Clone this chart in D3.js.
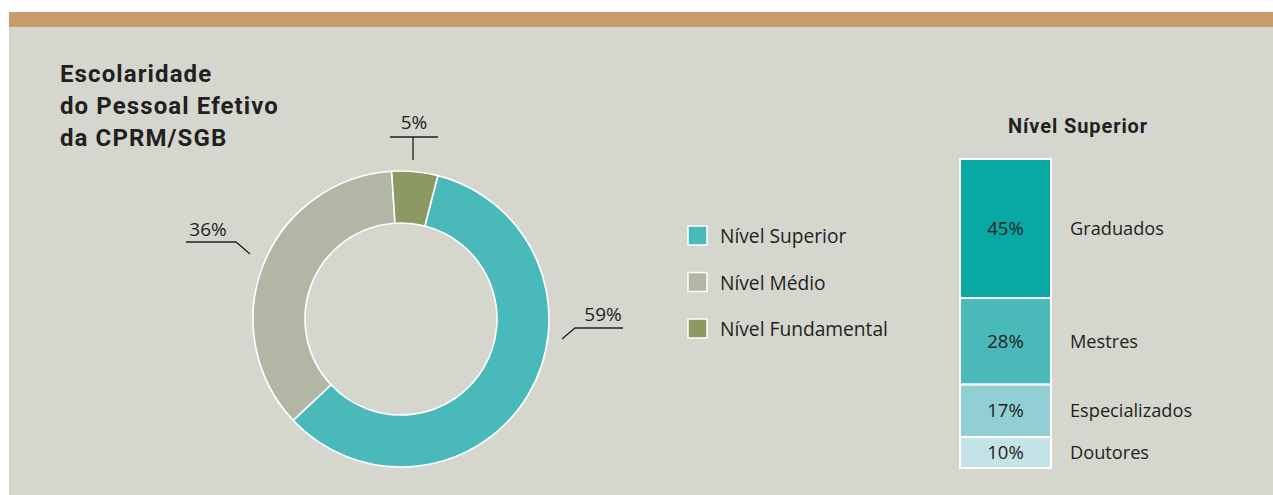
<!DOCTYPE html>
<html>
<head>
<meta charset="utf-8">
<script src="https://cdn.jsdelivr.net/npm/d3@7/dist/d3.min.js"></script>
<style>
  html, body { margin: 0; padding: 0; background: #ffffff; }
  svg { display: block; }
</style>
</head>
<body>
<svg id="chart" width="1273" height="495"></svg>
<script>
// Education level of permanent staff
const levels = ["Nível Superior", "Nível Médio", "Nível Fundamental"];
const levelShares = [59, 36, 5];
const levelColors = ["#49b9ba", "#b2b7a5", "#8c9962"];

// Breakdown of the higher-education group
const degrees = ["Graduados", "Mestres", "Especializados", "Doutores"];
const degreeShares = [45, 28, 17, 10];
const degreeColors = ["#09a8a5", "#49b9ba", "#92cfd5", "#c4e3e6"];

const titleLines = ["Escolaridade", "do Pessoal Efetivo", "da CPRM/SGB"];
const subTitle = "Nível Superior";

const svg = d3.select("#chart");
const textFont = "'Open Sans', 'Noto Sans', sans-serif";
const titleFont = "Roboto, 'Noto Sans', sans-serif";
const ink = "#231f20";

// panel and top band
svg.append("rect").attr("x", 9).attr("y", 12).attr("width", 1264).attr("height", 483).attr("fill", "#d5d6ce");
svg.append("rect").attr("x", 9).attr("y", 12).attr("width", 1264).attr("height", 15).attr("fill", "#c69c6d");

// title
svg.append("text")
  .attr("x", 60).attr("y", 82)
  .attr("font-family", titleFont).attr("font-weight", 700).attr("font-size", 24)
  .attr("letter-spacing", 1.1)
  .attr("fill", ink)
  .selectAll("tspan").data(titleLines).join("tspan")
  .attr("x", 60).attr("dy", (d, i) => i === 0 ? 0 : 32)
  .text(d => d);

// donut
const cx = 401, cy = 319, rOuter = 148, rInner = 96;
const pie = d3.pie().sort(null).value(d => d)
  .startAngle(0.2513).endAngle(0.2513 + 2 * Math.PI);
const arcs = pie(levelShares);
const arc = d3.arc().innerRadius(rInner).outerRadius(rOuter);
const donut = svg.append("g").attr("transform", `translate(${cx},${cy})`);
donut.selectAll("path").data(arcs).join("path")
  .attr("d", arc)
  .attr("fill", (d, i) => levelColors[i])
  .attr("stroke", "#ffffff").attr("stroke-width", 1.6);

// percentage callouts
const pct = v => v + "%";
const calloutStyle = sel => sel.attr("stroke", ink).attr("stroke-width", 1.3).attr("fill", "none");
const calloutText = (x, yPos, v) => svg.append("text").attr("x", x).attr("y", yPos)
  .attr("text-anchor", "middle").attr("font-family", textFont).attr("font-size", 19)
  .attr("fill", ink).text(pct(v));
// 59%
calloutStyle(svg.append("path").attr("d", "M562,339 L575,328 L623,328"));
calloutText(603, 321, levelShares[0]);
// 36%
calloutStyle(svg.append("path").attr("d", "M186,242 L236,242 L250,254"));
calloutText(208, 236, levelShares[1]);
// 5%
calloutStyle(svg.append("path").attr("d", "M390,137 L438,137 M413,137 L413,160"));
calloutText(414, 129, levelShares[2]);

// legend
const legend = svg.append("g").attr("transform", "translate(688,226)");
const item = legend.selectAll("g").data(levels).join("g")
  .attr("transform", (d, i) => `translate(0,${i * 46.5})`);
item.append("rect").attr("x", 0).attr("y", 0).attr("width", 19).attr("height", 19)
  .attr("fill", (d, i) => levelColors[i]).attr("stroke", "#ffffff").attr("stroke-width", 1.5);
item.append("text").attr("x", 32).attr("y", 17)
  .attr("font-family", textFont).attr("font-size", 19.2).attr("fill", ink).text(d => d);

// stacked bar for higher education
const barX = 960, barW = 91, barTop = 159, barBottom = 468;
svg.append("text").attr("x", 1078).attr("y", 133).attr("text-anchor", "middle")
  .attr("font-family", titleFont).attr("font-weight", 700).attr("font-size", 20)
  .attr("letter-spacing", 0.9)
  .attr("fill", ink).text(subTitle);

const y = d3.scaleLinear().domain([0, d3.sum(degreeShares)]).range([barTop, barBottom]);
const cum = d3.cumsum(degreeShares);
const segs = degreeShares.map((v, i) => ({ v, name: degrees[i], color: degreeColors[i], y0: cum[i] - v, y1: cum[i] }));
const bars = svg.append("g");
bars.selectAll("rect").data(segs).join("rect")
  .attr("x", barX).attr("width", barW)
  .attr("y", d => y(d.y0)).attr("height", d => y(d.y1) - y(d.y0))
  .attr("fill", d => d.color).attr("stroke", "#ffffff").attr("stroke-width", 2);
bars.selectAll("text.val").data(segs).join("text").attr("class", "val")
  .attr("x", barX + barW / 2).attr("y", d => (y(d.y0) + y(d.y1)) / 2)
  .attr("dy", "0.35em").attr("text-anchor", "middle")
  .attr("font-family", textFont).attr("font-size", 18.5).attr("fill", ink)
  .text(d => pct(d.v));
bars.selectAll("text.name").data(segs).join("text").attr("class", "name")
  .attr("x", 1070).attr("y", d => (y(d.y0) + y(d.y1)) / 2)
  .attr("dy", "0.35em")
  .attr("font-family", textFont).attr("font-size", 18.2).attr("fill", ink)
  .text(d => d.name);
</script>
</body>
</html>
